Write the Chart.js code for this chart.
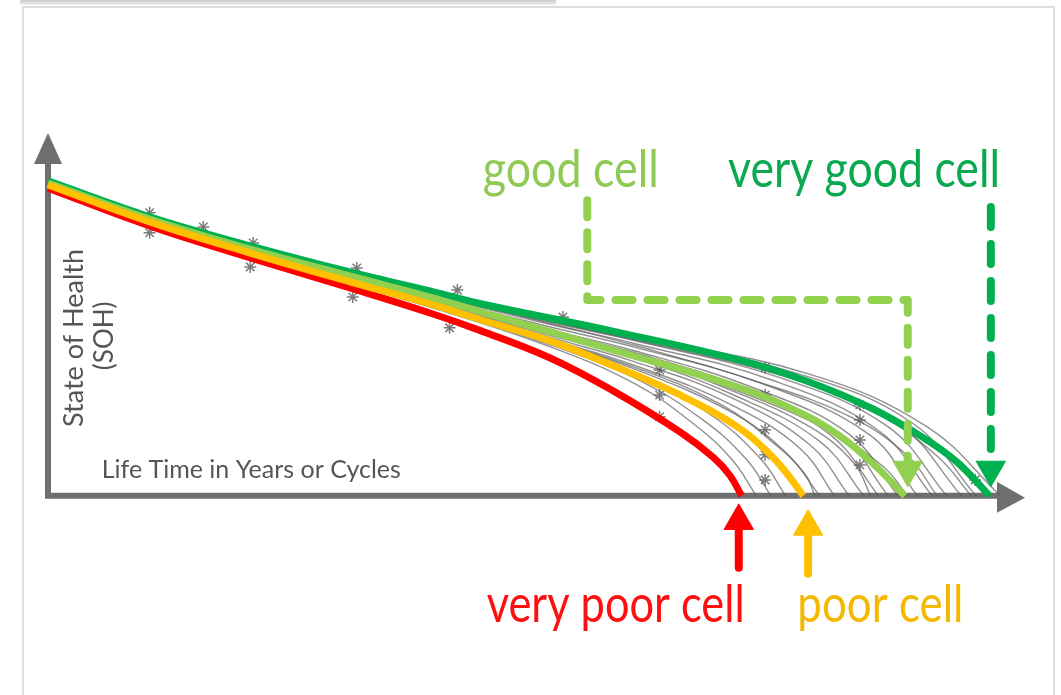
<!DOCTYPE html>
<html>
<head>
<meta charset="utf-8">
<script src="https://cdn.jsdelivr.net/npm/chart.js@4.4.1/dist/chart.umd.min.js"></script>
<style>
  html, body { margin: 0; padding: 0; background: #fff; }
  #wrap { position: relative; width: 1061px; height: 695px; overflow: hidden; background: #fff; }
  #shadow { position: absolute; left: 20px; top: 0; width: 536px; height: 5px; background: linear-gradient(#c9c9c9, #f2f2f2); }
  #frame { position: absolute; left: 22px; top: 6px; width: 1029px; height: 720px; border: 2px solid #dedede; background: #fff; }
  canvas { position: absolute; left: 0; top: 0; }
</style>
</head>
<body>
<div id="wrap">
  <div id="shadow"></div>
  <div id="frame"></div>
  <canvas id="soh" width="1061" height="695"></canvas>
</div>
<script>
// schematic SOH curves, x = share of life time, y = state of health (both 0..100)
const cellNames = ['very poor cell', 'poor cell', 'good cell', 'very good cell'];
const axisTitles = ['Life Time in Years or Cycles', 'State of Health', '(SOH)'];

const veryPoorCell = [[0, 84.8], [10.4, 74.4], [20.7, 65.6], [30.9, 57.3], [39.1, 50.4], [44.2, 45.6], [51.4, 38.0], [57.8, 29.0], [64.7, 17.6], [68.1, 10.6], [69.8, 5.6], [71.0, 0]];
const poorCell = [[0, 85.7], [10.4, 75.5], [20.7, 66.9], [30.9, 59.0], [39.1, 52.9], [44.2, 48.6], [51.1, 43.0], [57.8, 35.9], [64.7, 27.8], [70.8, 18.6], [74.2, 10.6], [75.9, 5.2], [77.3, 0]];
const goodCell = [[0, 86.2], [10.4, 76.3], [20.7, 68.0], [30.9, 60.6], [39.1, 54.8], [44.2, 50.8], [57.8, 40.2], [70.8, 29.8], [77.7, 22.0], [81.1, 16.4], [84.4, 9.0], [87.7, 0]];
const veryGoodCell = [[0, 86.8], [10.4, 76.9], [20.7, 68.9], [30.9, 61.7], [39.1, 56.5], [44.2, 53.0], [57.8, 45.4], [70.8, 37.4], [77.7, 31.6], [84.4, 24.0], [89.6, 16.0], [93.0, 9.4], [96.4, 0]];

// the grey bundle of other measured cells
const otherCells = [
  [[0, 85.2], [20.7, 66.5], [39.1, 52], [51, 41.5], [60, 31], [66, 20], [70, 10], [72.5, 0]],
  [[0, 85.4], [20.7, 66.8], [39.1, 52.6], [51, 42], [60, 32.5], [67, 21], [71.5, 10], [74, 0]],
  [[0, 85.5], [20.7, 66.9], [39.1, 52.8], [51, 42.5], [60, 33.5], [68, 22], [73, 10], [75.5, 0]],
  [[0, 85.6], [20.7, 67], [39.1, 53], [51, 43], [60, 35], [70, 23], [75.5, 12], [79, 0]],
  [[0, 85.7], [20.7, 67.2], [39.1, 53.4], [51, 43.5], [60, 36], [70, 25], [77, 13], [80.5, 0]],
  [[0, 85.8], [20.7, 67.4], [39.1, 53.8], [51, 44], [60, 37], [70, 27], [78, 14], [82, 0]],
  [[0, 85.9], [20.7, 67.5], [39.1, 54], [51, 44.5], [60, 38], [70, 28], [79, 15], [83.5, 0]],
  [[0, 86], [20.7, 67.6], [39.1, 54.2], [51, 45], [60, 38.5], [71, 29], [80, 17], [85, 0]],
  [[0, 86], [20.7, 67.7], [39.1, 54.4], [51, 45.5], [60, 39.5], [71, 30], [81, 17], [86, 0]],
  [[0, 86.1], [20.7, 67.8], [39.1, 54.6], [51, 46], [60, 40], [72, 30], [82, 17], [87, 0]],
  [[0, 86.2], [20.7, 68], [39.1, 55], [51, 46.8], [60, 41], [73, 31], [84, 17], [89, 0]],
  [[0, 86.3], [20.7, 68.2], [39.1, 55.4], [51, 47.5], [60, 42], [74, 32], [85, 18], [90.5, 0]],
  [[0, 86.4], [20.7, 68.4], [39.1, 55.8], [51, 48], [60, 42.8], [75, 32.5], [86, 19], [92, 0]],
  [[0, 86.5], [20.7, 68.6], [39.1, 56], [51, 48.3], [60, 43.2], [76, 33], [87, 20], [93.5, 0]],
  [[0, 86.6], [20.7, 68.7], [39.1, 56.2], [51, 48.6], [60, 43.6], [77, 33.5], [88.5, 20], [95, 0]],
  [[0, 86.7], [20.7, 68.9], [39.1, 56.4], [51, 49], [60, 44], [78, 33.5], [90, 19], [97.5, 0]],
  [[0, 86.1], [20.7, 67.9], [39.1, 54.8], [51, 46.2], [60, 39], [70, 29.5], [80, 18], [85.5, 8], [88, 0]],
  [[0, 86.3], [20.7, 68.3], [39.1, 55.6], [51, 47.8], [60, 41.5], [72, 32], [82, 22], [88, 11], [91, 0]],
  [[0, 86.5], [20.7, 68.5], [39.1, 55.9], [51, 48.4], [60, 43], [74, 34], [84, 24], [91, 11], [94.5, 0]],
  [[0, 85.6], [20.7, 67.1], [39.1, 53.2], [51, 43.2], [60, 35.5], [69, 25], [74.5, 14], [77.5, 6], [78.5, 0]],
  [[0, 86.0], [20.7, 67.6], [39.1, 54.3], [51, 45.2], [60, 39], [70, 29], [78, 19], [82.5, 9], [84.2, 0]]
];

// measurement markers sitting on the bundle
const measuredMarks = [[10.4, 78.0], [10.4, 72.5], [15.9, 74.1], [21.0, 69.7], [20.7, 63.1], [31.6, 62.8], [31.2, 54.8], [41.9, 56.7], [41.1, 46.3], [52.7, 49.3],
  [62.6, 34.7], [62.6, 27.8], [62.6, 21.8], [73.4, 35.3], [73.4, 27.8], [73.4, 18.2], [73.4, 11.3], [73.4, 4.4], [83.1, 25.1], [83.1, 20.9], [83.1, 15.4], [83.1, 8.5], [94.9, 4.4]];

// pointer arrows (last point is the arrow head)
const goodArrow = [[55.2, 81.5], [55.2, 54.0], [88.0, 54.0], [88.0, 10.5], [88.0, 7.2]];
const veryGoodArrow = [[96.5, 79.6], [96.5, 10.5], [96.5, 7.2]];
const veryPoorArrow = [[70.7, -19.8], [70.7, -6.9]];
const poorArrow = [[77.8, -21.5], [77.8, -8.5]];

const RED = '#ff0000', ORANGE = '#ffc000', LIGHT_GREEN = '#92d050', GREEN = '#00b050', AXIS = '#6f6f6f';

const pts = arr => arr.map(p => ({ x: p[0], y: p[1] }));

function curve(data, color, width) {
  return {
    data: pts(data), borderColor: color, borderWidth: width, pointRadius: 0,
    tension: 0.4, fill: false, clip: false
  };
}

function arrow(data, color, width, dash, rot) {
  const n = data.length;
  return {
    data: pts(data), borderColor: color, backgroundColor: color, borderWidth: width,
    borderDash: dash, borderCapStyle: 'round', borderJoinStyle: 'round', tension: 0,
    pointStyle: 'triangle', pointRadius: data.map((p, i) => i === n - 1 ? 17 : 0),
    pointRotation: rot, pointBorderWidth: 1, pointBorderColor: color, clip: false
  };
}

const axisArrows = {
  id: 'axisArrows',
  beforeDatasetsDraw(chart) {
    const { ctx, chartArea: a, scales: { x, y } } = chart;
    const x0 = x.getPixelForValue(0), y0 = y.getPixelForValue(0);
    ctx.save();
    ctx.strokeStyle = AXIS;
    ctx.fillStyle = AXIS;
    ctx.lineWidth = 6;
    ctx.beginPath();
    ctx.moveTo(x0, y0 + 2);
    ctx.lineTo(x0, a.top + 25);
    ctx.moveTo(x0 - 3, y0);
    ctx.lineTo(a.right - 22, y0);
    ctx.stroke();
    ctx.beginPath();
    ctx.moveTo(x0, a.top);
    ctx.lineTo(x0 - 14, a.top + 31);
    ctx.lineTo(x0 + 14, a.top + 31);
    ctx.closePath();
    ctx.fill();
    ctx.beginPath();
    ctx.moveTo(a.right, y0 + 2);
    ctx.lineTo(a.right - 28, y0 - 14);
    ctx.lineTo(a.right - 28, y0 + 17);
    ctx.closePath();
    ctx.fill();
    ctx.restore();
  }
};

const chartTexts = {
  id: 'chartTexts',
  afterDatasetsDraw(chart, args, opts) {
    const { ctx, scales: { x, y } } = chart;
    opts.items.forEach(t => {
      ctx.save();
      ctx.translate(x.getPixelForValue(t.x), y.getPixelForValue(t.y));
      if (t.rotate) ctx.rotate(-Math.PI / 2);
      ctx.font = t.font;
      ctx.fillStyle = t.color;
      ctx.textAlign = t.align;
      ctx.textBaseline = 'alphabetic';
      ctx.fillText(t.text, 0, 0, t.maxWidth);
      ctx.restore();
    });
  }
};

const BIG = '53px Lato';

new Chart(document.getElementById('soh'), {
  type: 'line',
  data: {
    datasets: [
      arrow(goodArrow, LIGHT_GREEN, 8, [17, 15], 180),
      arrow(veryGoodArrow, GREEN, 8, [20, 17], 180),
      arrow(veryPoorArrow, RED, 8, [], 0),
      arrow(poorArrow, ORANGE, 8, [], 0),
      curve(poorCell, ORANGE, 7),
      curve(veryPoorCell, RED, 7),
      curve(goodCell, LIGHT_GREEN, 7),
      curve(veryGoodCell, GREEN, 7),
      {
        data: pts(measuredMarks), showLine: false, pointStyle: 'star', pointRadius: 6,
        pointBorderColor: 'rgba(80,80,80,0.75)', pointBorderWidth: 1.5, clip: false
      },
      ...otherCells.map(c => curve(c, 'rgba(85,85,85,0.65)', 1.4))
    ]
  },
  options: {
    responsive: false,
    animation: false,
    events: [],
    layout: { padding: { left: 48, right: 36, top: 133, bottom: 54 } },
    scales: {
      x: { type: 'linear', min: 0, max: 100, display: false },
      y: { type: 'linear', min: -40, max: 100, display: false }
    },
    plugins: {
      legend: { display: false },
      tooltip: { enabled: false },
      chartTexts: {
        items: [
          { text: cellNames[2], x: 44.5, y: 85.1, font: BIG, color: '#8fca55', align: 'left', maxWidth: 176 },
          { text: cellNames[3], x: 69.6, y: 85.1, font: BIG, color: '#0aa84f', align: 'left', maxWidth: 272 },
          { text: cellNames[0], x: 44.9, y: -34.7, font: BIG, color: '#ff1010', align: 'left', maxWidth: 258 },
          { text: cellNames[1], x: 76.7, y: -34.7, font: BIG, color: '#f5b800', align: 'left', maxWidth: 166 },
          { text: axisTitles[0], x: 5.5, y: 5.0, font: '25px Lato', color: '#555', align: 'left', maxWidth: 306 },
          { text: axisTitles[1], x: 3.6, y: 43.5, font: '27px Lato', color: '#555', align: 'center', maxWidth: 190, rotate: true },
          { text: axisTitles[2], x: 6.7, y: 44.1, font: '26px Lato', color: '#555', align: 'center', maxWidth: 76, rotate: true }
        ]
      }
    }
  },
  plugins: [axisArrows, chartTexts]
});
</script>
</body>
</html>
